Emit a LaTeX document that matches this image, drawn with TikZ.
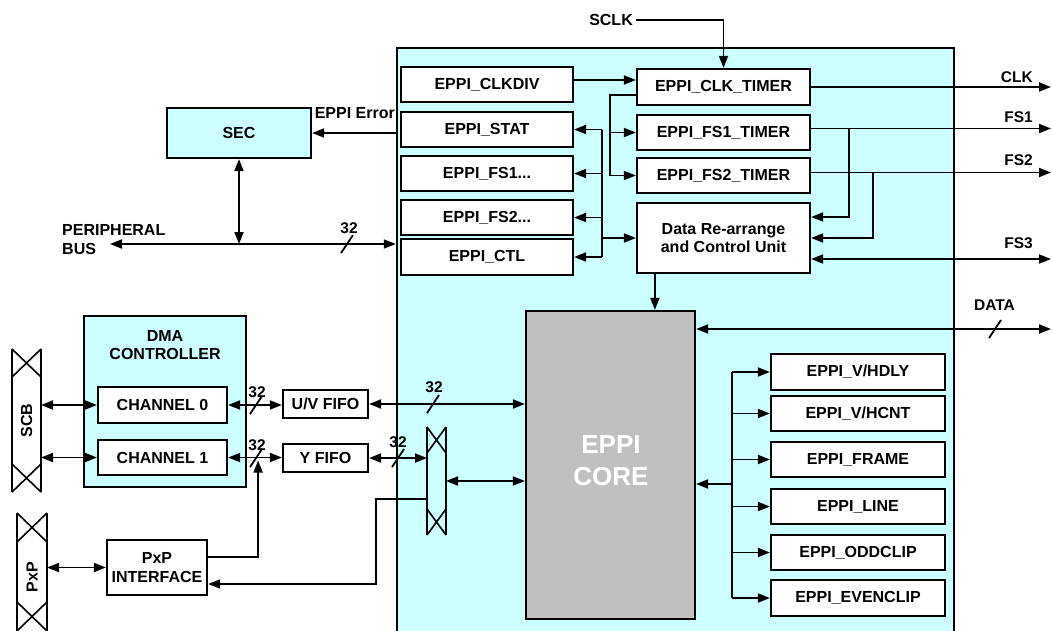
\documentclass[tikz,border=0pt]{standalone}
\usepackage{fontspec}
\setmainfont{Liberation Sans}
\usetikzlibrary{arrows.meta,calc}
\definecolor{cy}{RGB}{204,255,255}
\definecolor{coregray}{RGB}{192,192,192}
\tikzset{
  box/.style={draw, line width=2.2pt, fill=white, inner sep=0pt, align=center,
    font=\fontsize{16}{18.5}\selectfont\bfseries},
  lbl/.style={inner sep=0pt, font=\fontsize{16}{19}\selectfont\bfseries},
  small/.style={inner sep=0pt, font=\fontsize{15.5}{18}\selectfont\bfseries},
  conn/.style={line width=1.8pt, -{Triangle[length=12pt,width=9pt]}},
  dconn/.style={line width=1.8pt, {Triangle[length=12pt,width=9pt]}-{Triangle[length=12pt,width=9pt]}},
  wire/.style={line width=1.8pt},
  slashmark/.style={line width=1.8pt},
  busglyph/.style={line width=1.6pt},
  hole/.style={inner sep=0pt, outer sep=0pt}
}
\newcommand\busshape[5]{%
  \draw[busglyph] (#1,#2) -- (#1,#4) (#3,#2) -- (#3,#4)
    (#1,#2) -- (#3,#2+#5) (#3,#2) -- (#1,#2+#5)
    (#1,#4) -- (#3,#4-#5) (#3,#4) -- (#1,#4-#5);}
\newcommand\slashat[2]{\draw[slashmark] (#1-6,#2+9) -- (#1+6,#2-9);}
\begin{document}
\begin{tikzpicture}[x=1pt,y=-1pt]
\useasboundingbox (0,0) rectangle (1052,630);
\clip (0,0) rectangle (1052,630);
\fill[white] (0,0) rectangle (1052,630);

% main EPPI block
\node[draw, line width=2.4pt, fill=cy, minimum width=557pt, minimum height=592pt, inner sep=0pt] (main) at (675.5,344) {};

% core
\node[draw, line width=2.2pt, fill=coregray, minimum width=169pt, minimum height=308pt, inner sep=0pt] (core) at (610.5,465) {};
\node[inner sep=0pt, align=center, text=white, font=\fontsize{26}{32}\selectfont\bfseries] (coretext) at (611,461) {EPPI\\CORE};

% left register column
\node[box, minimum width=172pt, minimum height=35pt] (clkdiv) at (487,84.5) {EPPI\_CLKDIV};
\node[box, minimum width=172pt, minimum height=35pt] (stat) at (487,129.5) {EPPI\_STAT};
\node[box, minimum width=172pt, minimum height=35pt] (fsa) at (487,173.5) {EPPI\_FS1...};
\node[box, minimum width=172pt, minimum height=35pt] (fsb) at (487,217.5) {EPPI\_FS2...};
\node[box, minimum width=172pt, minimum height=36pt] (ctl) at (487,257) {EPPI\_CTL};

% timers
\node[box, minimum width=173pt, minimum height=36pt] (clkt) at (723.5,87) {EPPI\_CLK\_TIMER};
\node[box, minimum width=173pt, minimum height=35pt] (fs1t) at (723.5,132.5) {EPPI\_FS1\_TIMER};
\node[box, minimum width=173pt, minimum height=35pt] (fs2t) at (723.5,175.5) {EPPI\_FS2\_TIMER};
\node[box, minimum width=173pt, minimum height=70pt] (dru) at (723.5,238) {Data Re-arrange\\and Control Unit};

% right register column
\node[box, minimum width=174pt, minimum height=36pt] (vhdly) at (858,372) {EPPI\_V/HDLY};
\node[box, minimum width=174pt, minimum height=35pt] (vhcnt) at (858,413.5) {EPPI\_V/HCNT};
\node[box, minimum width=174pt, minimum height=35pt] (frame) at (858,459.5) {EPPI\_FRAME};
\node[box, minimum width=174pt, minimum height=35pt] (line) at (858,506.5) {EPPI\_LINE};
\node[box, minimum width=174pt, minimum height=35pt] (oddclip) at (858,552.5) {EPPI\_ODDCLIP};
\node[box, minimum width=174pt, minimum height=36pt] (evenclip) at (858,598) {EPPI\_EVENCLIP};

% SEC
\node[box, fill=cy, minimum width=144pt, minimum height=50pt] (sec) at (239,133) {SEC};
\node[lbl, anchor=base east] (errlbl) at (395,118) {EPPI Error};

% DMA controller
\node[box, fill=cy, minimum width=162pt, minimum height=171pt] (dma) at (165,401.5) {};
\node[lbl, align=center, font=\fontsize{16}{18}\selectfont\bfseries] (dmatitle) at (165,345) {DMA\\CONTROLLER};
\node[box, minimum width=129pt, minimum height=36pt] (ch0) at (162.5,405) {CHANNEL 0};
\node[box, minimum width=129pt, minimum height=35pt] (ch1) at (162.5,457.5) {CHANNEL 1};
\node[box, minimum width=85pt, minimum height=28pt] (uv) at (325.5,404) {U/V FIFO};
\node[box, minimum width=85pt, minimum height=28pt] (yf) at (325.5,458) {Y FIFO};
\node[box, minimum width=100pt, minimum height=55pt, font=\fontsize{16}{19}\selectfont\bfseries] (pxpi) at (157,567.5) {PxP\\INTERFACE};

% bus glyphs
\busshape{12}{349}{41}{492}{28}
\node[hole, minimum width=29pt, minimum height=143pt] (scb) at (26.5,420.5) {};
\node[lbl, rotate=90] (scblbl) at (26.5,420.5) {SCB};
\busshape{17}{513}{47}{631}{29}
\node[hole, minimum width=30pt, minimum height=118pt] (pxpb) at (32,572) {};
\node[lbl, rotate=90] (pxplbl) at (32,577) {PxP};
\busshape{427}{427}{446}{535}{26}
\node[hole, minimum width=19pt, minimum height=108pt] (sb) at (436.5,481) {};

% SCLK
\node[lbl, anchor=east] (sclk) at (633,20) {SCLK};
\draw[conn] ([xshift=3pt]sclk.east) -| (clkt.north);

% clkdiv to clk timer
\draw[conn] ([yshift=4.5pt]clkdiv.east) -- ([yshift=4.5pt]clkdiv.east -| clkt.west);
% clk timer to fs timers
\draw[conn] ([yshift=-8pt]clkt.west) -| ([xshift=-26pt]fs2t.west) -- (fs2t.west);
\draw[conn] ([xshift=-26pt]fs1t.west) -- (fs1t.west);

% register bus
\coordinate (lb) at ([xshift=28pt]stat.east);
\draw[wire] (lb) -- (lb |- ctl.east);
\draw[conn] (lb) -- (stat.east);
\draw[conn] (lb |- fsa.east) -- (fsa.east);
\draw[conn] (lb |- fsb.east) -- (fsb.east);
\draw[conn] (lb |- ctl.east) -- (ctl.east);
\draw[conn] (lb |- dru.west) -- (dru.west);

% outputs
\coordinate (oe) at (1051,0);
\draw[conn] (clkt.east) -- (clkt.east -| oe);
\draw[conn] ([yshift=4pt]fs1t.east) -- ([yshift=4pt]fs1t.east -| oe);
\draw[conn] ([yshift=3pt]fs2t.east) -- ([yshift=3pt]fs2t.east -| oe);
\coordinate (b1) at ($(fs1t.east)+(38,-4)$);
\coordinate (b2) at ($(fs2t.east)+(62,-3)$);
\draw[conn] (b1) |- ([yshift=21pt]dru.east);
\draw[conn] (b2) |- (dru.east);
\draw[dconn] ([yshift=-21pt]dru.east) -- ([yshift=-21pt]dru.east -| oe);
\coordinate (dq) at ([yshift=136pt]core.east);
\draw[dconn] (dq) -- (dq -| oe);
\slashat{995}{329}
\node[small, anchor=base east] (clklbl) at (1033,82) {CLK};
\node[small, anchor=base east] (fs1lbl) at (1033,122) {FS1};
\node[small, anchor=base east] (fs2lbl) at (1033,165) {FS2};
\node[small, anchor=base east] (fs3lbl) at (1033,248) {FS3};
\node[small, anchor=base east] (datalbl) at (1015,310) {DATA};

% DRU to core
\coordinate (d1) at ($(dru.south west)+(19,0)$);
\draw[conn] (d1) -- (d1 |- core.north);

% right register bus
\coordinate (rb) at ($(vhdly.west)+(-38,0)$);
\draw[wire] (rb) -- (rb |- evenclip.west);
\foreach \r in {vhdly,vhcnt,frame,line,oddclip,evenclip}
  \draw[conn] (rb |- \r.west) -- (\r.west);
\coordinate (cc) at ([yshift=-19pt]core.east);
\draw[conn] (rb |- cc) -- (cc);

% SEC connections
\draw[conn] (sec.east -| main.west) -- (sec.east);
\coordinate (pbl) at (110,244);
\draw[dconn] (pbl) -- (pbl -| main.west);
\draw[dconn] (sec.south) -- (sec.south |- pbl);
\slashat{347}{244}
\node[small, anchor=base] (pb32) at (349,233) {32};
\node[lbl, anchor=west, align=left] (pblbl) at (62,240) {PERIPHERAL\\BUS};

% DMA side
\draw[dconn] (scb.east |- ch0.west) -- (ch0.west);
\draw[dconn] (scb.east |- ch1.west) -- (ch1.west);
\draw[dconn] (ch0.east) -- (ch0.east -| uv.west);
\draw[dconn] (ch1.east) -- (ch1.east -| yf.west);
\slashat{256}{405}
\node[small, anchor=base] (l32a) at (257,397) {32};
\slashat{256}{458}
\node[small, anchor=base] (l32b) at (257,450) {32};
\draw[dconn] (uv.east) -- (uv.east -| core.west);
\slashat{433}{404}
\node[small, anchor=base] (l32c) at (434,392) {32};
\draw[dconn] (yf.east) -- (yf.east -| sb.west);
\slashat{398}{458}
\node[small, anchor=base] (l32d) at (398,447) {32};
\draw[dconn] (sb.east) -- (sb.east -| core.west);
\draw[conn] ([yshift=-18pt]sb.west) -- ++(-51,0) |- ([yshift=-16.5pt]pxpi.east);
\coordinate (pu) at ($(ch1.east)+(30,3)$);
\draw[conn] ([yshift=10.5pt]pxpi.east) -| (pu);
\draw[dconn] (pxpb.east |- pxpi.west) -- (pxpi.west);
\end{tikzpicture}
\end{document}
